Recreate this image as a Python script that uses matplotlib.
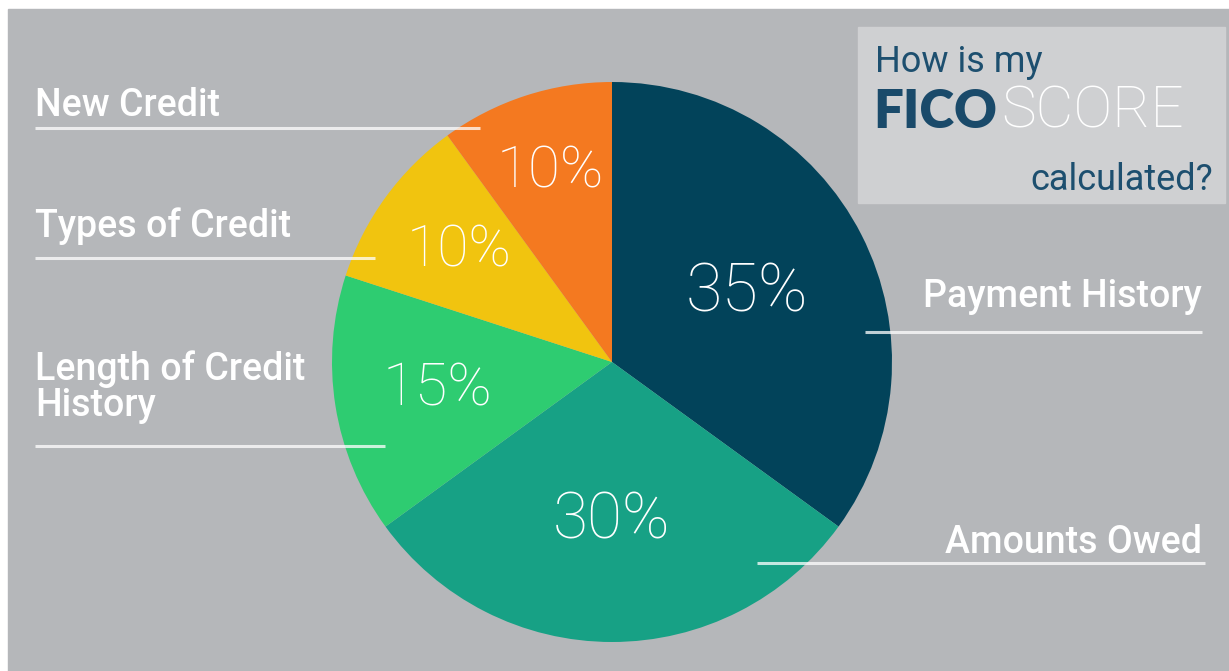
import matplotlib.pyplot as plt
import numpy as np
from matplotlib.patches import Rectangle

# Données du graphique
categories = ["Payment History", "Amounts Owed", "Length of Credit\nHistory",
              "Types of Credit", "New Credit"]
shares = [35, 30, 15, 10, 10]
colors = ["#02435a", "#17a185", "#2ecc71", "#f1c40f", "#f47920"]

# Mise en page (pixels, origine en haut à gauche)
W, H = 1229, 671
cx, cy, R = 612, 362, 280
pct_r = [0.54, 0.565, 0.63, 0.675, 0.714]
pct_size = [48, 46, 43, 41, 42]
# (x texte, y ligne de base, alignement, x1 ligne, x2 ligne, y ligne)
lab_pos = [(1202, 307, "right", 865, 1202, 332),
           (1202, 553, "right", 757, 1205, 563),
           (35, 416, "left", 35, 385, 446),
           (35, 237, "left", 35, 375, 258),
           (35, 116, "left", 35, 480, 128)]

def Y(y):
    return H - y

fig = plt.figure(figsize=(W / 100, H / 100), dpi=100, facecolor="white")
ax = fig.add_axes([0, 0, 1, 1])

# Fond gris
ax.add_patch(Rectangle((8, 0), W - 8, H - 9, color="#b5b7ba", zorder=0))

# Camembert
wedges, _ = ax.pie(shares, colors=colors, startangle=90, counterclock=False,
                   center=(cx, Y(cy)), radius=R,
                   wedgeprops=dict(linewidth=0))
for w in wedges:
    w.set_zorder(2)

for w, s, r, fs in zip(wedges, shares, pct_r, pct_size):
    a = np.deg2rad((w.theta1 + w.theta2) / 2)
    ax.text(cx + r * R * np.cos(a), Y(cy) + r * R * np.sin(a), f"{s}%",
            ha="center", va="center", color="white", fontsize=fs,
            family=["Roboto", "DejaVu Sans"], fontweight="light", zorder=4)

# Étiquettes et lignes
for name, (tx, ty, ha, x1, x2, ly) in zip(categories, lab_pos):
    ax.text(tx, Y(ty), name, ha=ha, va="baseline", color="white",
            fontsize=27, family=["Roboto", "DejaVu Sans"],
            fontweight="medium", linespacing=0.95, zorder=4)
    ax.plot([x1, x2], [Y(ly), Y(ly)], color="white", alpha=0.75, lw=2.2,
            solid_capstyle="butt", zorder=3)

# Encadré titre
ax.add_patch(Rectangle((858, Y(203)), 1225 - 858, 203 - 27, color="#cfd0d2", zorder=1))
navy = "#1d4f6f"
ax.text(875, Y(72), "How is my", ha="left", va="baseline", color=navy,
        fontsize=26, family=["Roboto", "DejaVu Sans"], zorder=4)
ax.text(873, Y(128), "FICO", ha="left", va="baseline", color="#1a4a6a",
        fontsize=38, family=["Lato", "DejaVu Sans"], fontweight="heavy", zorder=4)
ax.text(1001, Y(128), "SCORE", ha="left", va="baseline", color="white",
        fontsize=42, family=["Roboto", "DejaVu Sans"], fontweight="light", zorder=4)
ax.text(1213, Y(190), "calculated?", ha="right", va="baseline", color=navy,
        fontsize=26, family=["Roboto", "DejaVu Sans"], zorder=4)

ax.set_xlim(0, W)
ax.set_ylim(0, H)
ax.set_aspect("auto")
ax.axis("off")

fig.savefig("out.png", dpi=100, facecolor="white")
